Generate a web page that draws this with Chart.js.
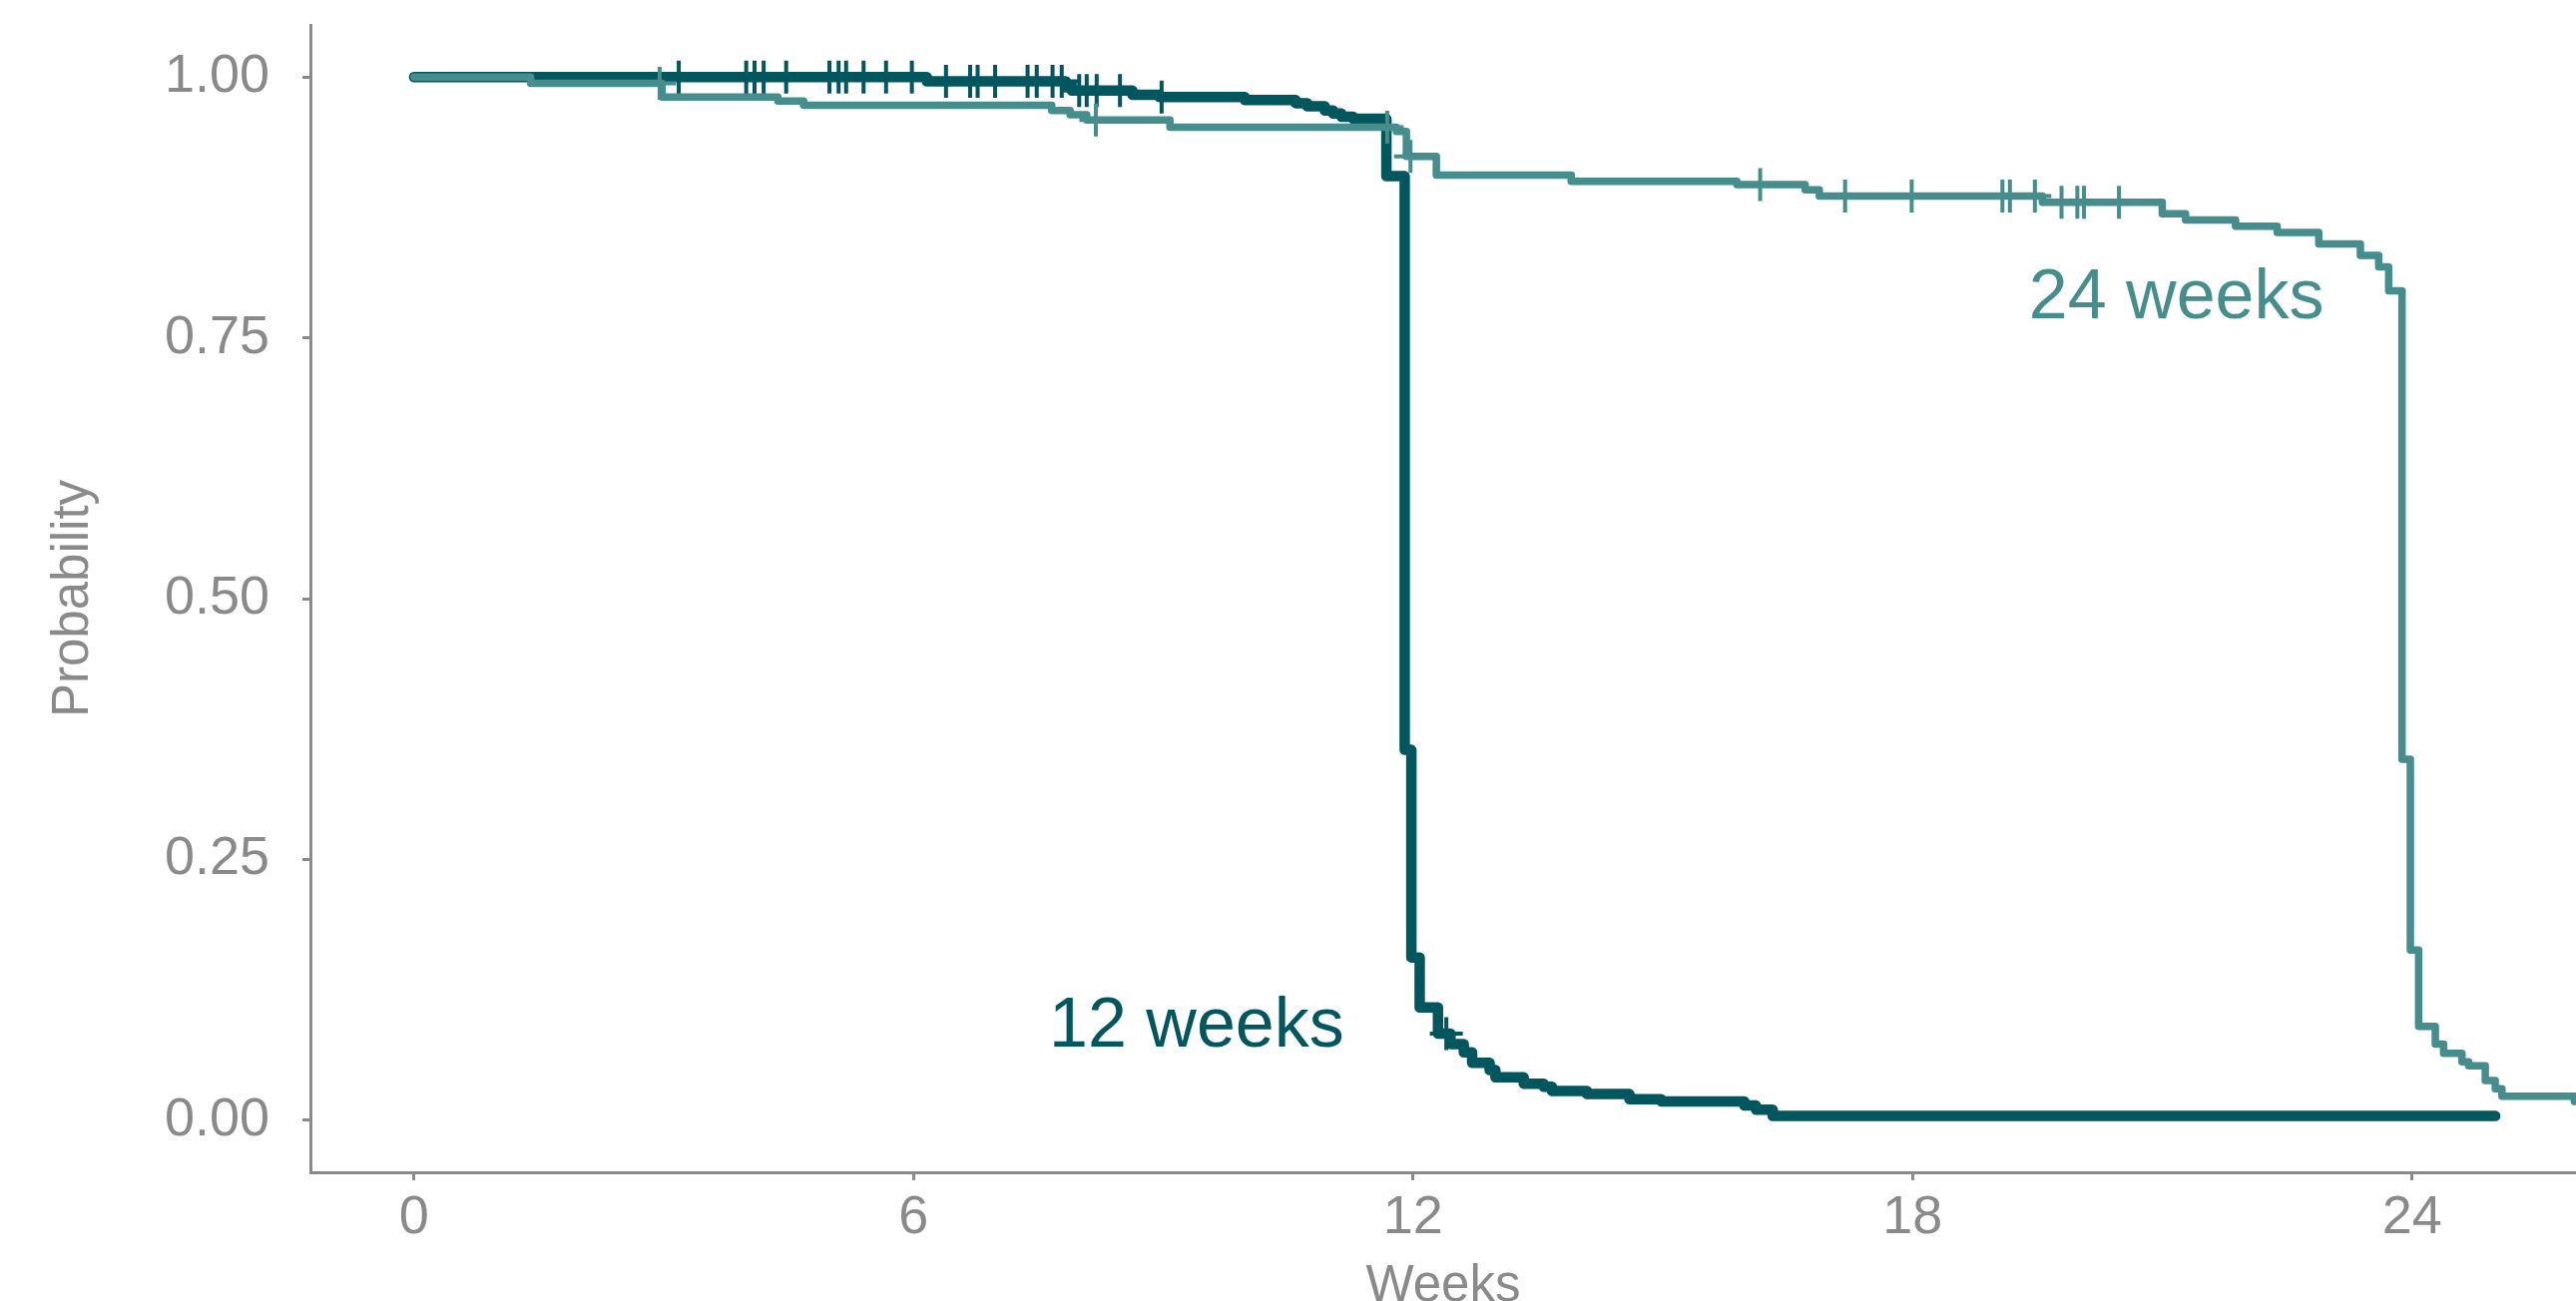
<!DOCTYPE html>
<html>
<head>
<meta charset="utf-8">
<script src="https://cdn.jsdelivr.net/npm/chart.js@4"></script>
<style>
  html, body { margin: 0; padding: 0; background: #fff; overflow: hidden; }
</style>
</head>
<body>
<canvas id="kmChart" width="2581" height="1330"></canvas>
<script>
// Axis ticks
const weekTicks = [0, 6, 12, 18, 24];
const probTicks = [0, 0.25, 0.5, 0.75, 1];

// 12 weeks curve (event times in weeks, survival probability after each step)
const wk12Time = [0, 6.16, 7.83, 7.90, 8.63, 8.95, 9.98, 10.59, 10.73, 10.94, 11.04, 11.14, 11.28,
  11.68, 11.90, 11.98, 12.08, 12.30, 12.45, 12.61, 12.71, 12.92, 12.99, 13.33, 13.57, 13.67,
  14.09, 14.60, 14.98, 15.98, 16.12, 16.32, 25.00];
const wk12Surv = [1.000, 0.996, 0.992, 0.987, 0.983, 0.981, 0.978, 0.975, 0.972, 0.968, 0.965, 0.962, 0.960,
  0.905, 0.355, 0.156, 0.108, 0.083, 0.073, 0.065, 0.055, 0.048, 0.041, 0.035, 0.032, 0.028,
  0.025, 0.020, 0.018, 0.014, 0.010, 0.004, 0.004];
const wk12Censor = [3.18, 3.99, 4.09, 4.20, 4.47, 4.99, 5.10, 5.19, 5.40, 5.67, 5.98, 6.39, 6.68,
  6.77, 6.98, 7.37, 7.48, 7.67, 7.78, 7.99, 8.08, 8.20, 8.48, 8.98, 12.40];

// 24 weeks curve
const wk24Time = [0, 1.40, 2.98, 4.37, 4.68, 7.66, 7.88, 8.08, 9.08, 11.80, 11.92, 12.28, 13.90,
  15.89, 16.71, 16.88, 19.56, 21.00, 21.28, 21.88, 22.38, 22.88, 23.38, 23.60, 23.72, 23.88,
  23.98, 24.08, 24.28, 24.38, 24.60, 24.68, 24.88, 25.00, 25.08, 25.95, 26.50];
const wk24Surv = [1.000, 0.994, 0.981, 0.977, 0.973, 0.968, 0.964, 0.959, 0.952, 0.948, 0.924, 0.906, 0.900,
  0.897, 0.892, 0.886, 0.880, 0.869, 0.863, 0.857, 0.851, 0.840, 0.829, 0.818, 0.795, 0.346,
  0.163, 0.090, 0.073, 0.064, 0.056, 0.052, 0.038, 0.030, 0.023, 0.018, 0.018];
const wk24Censor = [2.95, 8.19, 11.69, 11.97, 16.17, 17.19, 17.99, 19.08, 19.17, 19.47, 19.79,
  19.98, 20.06, 20.48];

const dark = "#02565E";
const light = "#468D8E";
const grey = "#8a8a8a";

// censor marks sit on the curve
function survAt(times, surv, t) {
  let s = surv[0];
  for (let i = 0; i < times.length; i++) {
    if (times[i] <= t) s = surv[i];
  }
  return s;
}

const toPoints = (xs, ys) => xs.map((x, i) => ({ x: x, y: ys[i] }));
const censorPoints = (cs, xs, ys) => cs.map((t) => ({ x: t, y: survAt(xs, ys, t) }));

const curveLabels = [
  { text: "12 weeks", x: 9.4, y: 0.089, color: dark },
  { text: "24 weeks", x: 21.17, y: 0.787, color: light },
];

const labelPlugin = {
  id: "curveLabels",
  afterDatasetsDraw(chart) {
    const { ctx, scales } = chart;
    ctx.save();
    ctx.font = '70px "Liberation Sans", Arial, sans-serif';
    ctx.textAlign = "center";
    ctx.textBaseline = "middle";
    curveLabels.forEach((l) => {
      ctx.fillStyle = l.color;
      ctx.fillText(l.text, scales.x.getPixelForValue(l.x), scales.y.getPixelForValue(l.y));
    });
    ctx.restore();
  },
};

const tickFont = { family: '"Liberation Sans", Arial, sans-serif', size: 54 };
const titleFont = { family: '"Liberation Sans", Arial, sans-serif', size: 51 };

const ctx = document.getElementById("kmChart").getContext("2d");
const kmChart = new Chart(ctx, {
  type: "line",
  data: {
    datasets: [
      {
        label: "12 weeks",
        data: toPoints(wk12Time, wk12Surv),
        borderColor: dark,
        borderWidth: 10.5,
        stepped: true,
        pointRadius: 0,
        borderJoinStyle: "round",
        borderCapStyle: "round",
        order: 4,
      },
      {
        label: "24 weeks",
        data: toPoints(wk24Time, wk24Surv),
        borderColor: light,
        borderWidth: 7.5,
        stepped: true,
        pointRadius: 0,
        borderJoinStyle: "round",
        borderCapStyle: "round",
        order: 3,
      },
      {
        label: "12 weeks censored",
        data: censorPoints(wk12Censor, wk12Time, wk12Surv),
        showLine: false,
        pointStyle: "cross",
        pointRadius: 16.5,
        pointBorderWidth: 4,
        pointBorderColor: dark,
        order: 2,
      },
      {
        label: "24 weeks censored",
        data: censorPoints(wk24Censor, wk24Time, wk24Surv),
        showLine: false,
        pointStyle: "cross",
        pointRadius: 16.5,
        pointBorderWidth: 4,
        pointBorderColor: light,
        order: 1,
      },
    ],
  },
  options: {
    responsive: false,
    animation: false,
    devicePixelRatio: 1,
    layout: { autoPadding: false, padding: { top: 25, right: 0, bottom: 0, left: 0 } },
    plugins: {
      legend: { display: false },
      tooltip: { enabled: false },
    },
    scales: {
      x: {
        type: "linear",
        min: -1.245,
        max: 25.97,
        afterBuildTicks: (axis) => {
          axis.ticks = weekTicks.map((v) => ({ value: v }));
        },
        afterFit: (axis) => {
          axis.height = 155;
          axis.paddingLeft = 0;
          axis.paddingRight = 0;
        },
        ticks: {
          color: grey,
          font: tickFont,
          padding: 6,
          maxRotation: 0,
          callback: (v) => String(v),
        },
        grid: {
          drawOnChartArea: false,
          drawTicks: true,
          tickLength: 8,
          tickColor: grey,
          tickWidth: 3,
        },
        border: { display: true, color: grey, width: 3 },
        title: {
          display: true,
          text: "Weeks",
          color: grey,
          font: titleFont,
          padding: { top: 0, bottom: 9 },
        },
      },
      y: {
        type: "linear",
        min: -0.05,
        max: 1.05,
        afterBuildTicks: (axis) => {
          axis.ticks = probTicks.map((v) => ({ value: v }));
        },
        afterFit: (axis) => {
          axis.width = 311;
          axis.paddingTop = 0;
          axis.paddingBottom = 0;
        },
        ticks: {
          color: grey,
          font: tickFont,
          padding: 33,
          callback: (v) => v.toFixed(2),
        },
        grid: {
          drawOnChartArea: false,
          drawTicks: true,
          tickLength: 8,
          tickColor: grey,
          tickWidth: 3,
        },
        border: { display: true, color: grey, width: 3 },
        title: {
          display: true,
          text: "Probability",
          color: grey,
          font: titleFont,
          padding: { top: 43, bottom: 0 },
        },
      },
    },
  },
  plugins: [labelPlugin],
});
</script>
</body>
</html>
